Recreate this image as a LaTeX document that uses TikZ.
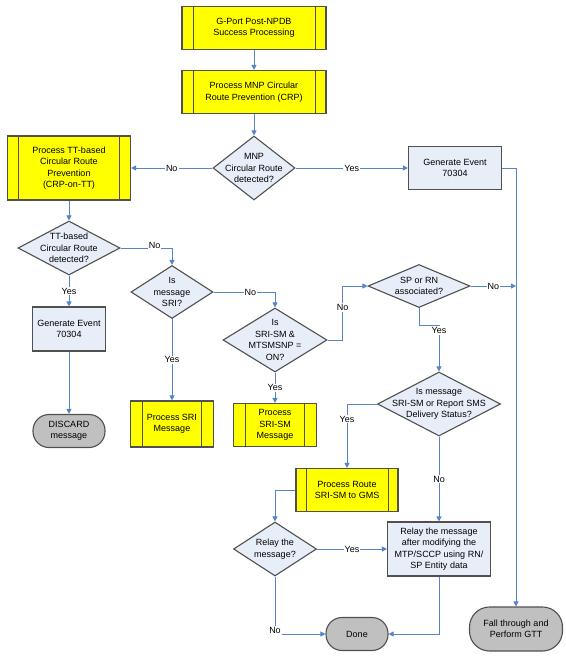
\documentclass[tikz,border=0pt]{standalone}
\usepackage{fontspec}
\setmainfont{Liberation Sans}
\usetikzlibrary{shapes.geometric,arrows.meta}
\definecolor{yfill}{HTML}{FFFF00}
\definecolor{bfill}{HTML}{E8EEF8}
\definecolor{gfill}{HTML}{C0C0C0}
\definecolor{bord}{HTML}{505050}
\definecolor{conn}{HTML}{5585C8}
\begin{document}
\begin{tikzpicture}[x=1pt,y=-1pt,
  font=\fontsize{9}{11.5}\selectfont,
  base/.style={draw=bord, line width=1.1pt, align=center, inner sep=0pt},
  ybox/.style={base, rectangle, fill=yfill,
    path picture={
      \draw[bord,line width=1pt] ([xshift=#1]path picture bounding box.north west) -- ([xshift=#1]path picture bounding box.south west);
      \draw[bord,line width=1pt] ([xshift=-#1]path picture bounding box.north east) -- ([xshift=-#1]path picture bounding box.south east);}},
  ybox/.default=11pt,
  bbox/.style={base, rectangle, fill=bfill},
  dia/.style={base, diamond, fill=bfill},
  term/.style={base, rectangle, fill=gfill, rounded corners=#1},
  term/.default=16pt,
  dtext/.style={align=center, inner sep=0pt},
  conn/.style={draw=conn, line width=0.9pt, -{Triangle[length=5pt,width=5pt]}},
  lbl/.style={fill=white, inner sep=1pt, text=black}]
\useasboundingbox (0,0) rectangle (565,658);
\fill[white] (0,0) rectangle (565,658);

% nodes
\node[ybox, minimum width=144pt, minimum height=43pt] (gport) at (254,28) {G-Port Post-NPDB\\Success Processing};
\node[ybox, minimum width=144pt, minimum height=43pt] (crp) at (254,92) {Process MNP Circular\\Route Prevention (CRP)};
\node[dia, minimum width=82pt, minimum height=64pt] (mnpd) at (254,168) {};
\node[dtext] (mnpdt) at (mnpd) {MNP\\Circular Route\\detected?};
\node[ybox, minimum width=123pt, minimum height=64pt] (tt) at (69,168) {Process TT-based\\Circular Route\\Prevention\\(CRP-on-TT)};
\node[bbox, minimum width=93pt, minimum height=43pt] (ge1) at (455,168) {Generate Event\\70304};

\node[dia, minimum width=102pt, minimum height=54pt] (ttd) at (69,248) {};
\node[dtext] (ttdt) at (ttd) {TT-based\\Circular Route\\detected?};
\node[bbox, minimum width=73pt, minimum height=44pt] (ge2) at (69,329) {Generate Event\\70304};
\node[term, minimum width=72pt, minimum height=33pt] (discard) at (69,431) {DISCARD\\message};

\node[dia, minimum width=82pt, minimum height=53pt] (srid) at (172,292) {};
\node[dtext] (sridt) at (srid) {Is\\message\\SRI?};
\node[ybox=12pt, minimum width=83pt, minimum height=46pt] (psri) at (172,424) {Process SRI\\Message};

\node[dia, minimum width=104pt, minimum height=64pt] (smd) at (275,340) {};
\node[dtext] (smdt) at (smd) {Is\\SRI-SM \&\\MTSMSNP =\\ON?};
\node[ybox=12pt, minimum width=83pt, minimum height=43pt] (psm) at (275,425) {Process\\SRI-SM\\Message};

\node[dia, minimum width=102pt, minimum height=43pt] (spd) at (419,286) {};
\node[dtext] (spdt) at (spd) {SP or RN\\associated?};
\coordinate (j1) at (516,286);

\node[dia, minimum width=123pt, minimum height=64pt] (isd) at (439,404) {};
\node[dtext] (isdt) at (isd) {Is message\\SRI-SM or Report SMS\\Delivery Status?};

\node[ybox=10pt, minimum width=102pt, minimum height=43pt] (route) at (347,490) {Process Route\\SRI-SM to GMS};
\node[dia, minimum width=83pt, minimum height=54pt] (relayd) at (275,549) {};
\node[dtext] (relaydt) at (relayd) {Relay the\\message?};
\node[bbox, minimum width=103pt, minimum height=54pt] (relay) at (439,549) {Relay the message\\after modifying the\\MTP/SCCP using RN/\\SP Entity data};
\node[term, minimum width=62pt, minimum height=33pt] (done) at (357,634) {Done};
\node[term=20pt, minimum width=93pt, minimum height=44pt] (fall) at (516,629) {Fall through and\\Perform GTT};

% connectors
\draw[conn] (gport) -- (crp);
\draw[conn] (crp) -- (mnpd);
\draw[conn] (mnpd.west) -- node[lbl]{No} (tt.east);
\draw[conn] (mnpd.east) -- node[lbl]{Yes} (ge1.west);
\draw[conn] (ge1.east) -| (fall.north);
\draw[conn] (tt) -- (ttd);
\draw[conn] (ttd.east) -| node[lbl,pos=0.33,yshift=3pt]{No} (srid.north);
\draw[conn] (ttd.south) -- node[lbl]{Yes} (ge2.north);
\draw[conn] (ge2) -- (discard);
\draw[conn] (srid.south) -- node[lbl]{Yes} (psri.north);
\draw[conn] (srid.east) -| node[lbl,pos=0.3]{No} (smd.north);
\draw[conn] (smd.south) -- node[lbl]{Yes} (psm.north);
\draw[conn] (smd.east) -- ++(15,0) |- node[lbl,pos=0.3]{No} (spd.west);
\draw[conn] (spd.east) -- node[lbl]{No} (j1);
\draw[conn] (spd.south) -- ++(0,17) -| node[lbl,pos=0.56]{Yes} (isd.north);
\draw[conn] (isd.west) -| node[lbl,pos=0.62]{Yes} (route.north);
\draw[conn] (isd.south) -- node[lbl]{No} (relay.north);
\draw[conn] (route.west) -| (relayd.north);
\draw[conn] (relayd.east) -- node[lbl]{Yes} (relay.west);
\draw[conn] (relayd.south) |- node[lbl,pos=0.47]{No} (done.west);
\draw[conn] (relay.south) |- (done.east);
\end{tikzpicture}
\end{document}
